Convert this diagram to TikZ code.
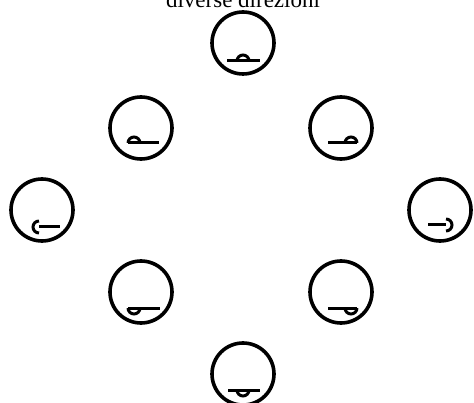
\documentclass[tikz,border=0pt]{standalone}
\usepackage{fontspec}
\setmainfont{Liberation Serif}
\usepackage{tikz}
\usetikzlibrary{calc}

\tikzset{
  ring/.style={draw, circle, line width=3.6pt, minimum size=62pt, inner sep=0pt},
  cue/.style={line width=3pt},
}

\begin{document}
\begin{tikzpicture}[x=1pt, y=1pt]
  \useasboundingbox (0,0) rectangle (474,402);
  \node[anchor=base, font=\fontsize{23}{26}\selectfont] (title) at (243,394) {diverse direzioni};

  \foreach \nm/\px/\py in {n/243/43, nw/141/128, ne/341/128, w/42/210, e/440/210, sw/141/292, se/341/292, s/243/374}
    \node[ring] (\nm) at (\px,402-\py) {};

  % caps pointing up
  \draw[cue] ($(n)+(-16,-18)$) -- ($(n)+(17,-18)$);
  \draw[cue] ($(n)+(-6,-18)$) arc[start angle=180, end angle=0, radius=6];
  \draw[cue] ($(nw)+(-13,-15)$) -- ($(nw)+(18,-15)$);
  \draw[cue] ($(nw)+(-13,-15)$) arc[start angle=180, end angle=0, radius=6];
  \draw[cue] ($(ne)+(-13,-15)$) -- ($(ne)+(16,-15)$);
  \draw[cue] ($(ne)+(4,-15)$) arc[start angle=180, end angle=0, radius=6];
  % caps pointing sideways
  \draw[cue] ($(w)+(-3,-17)$) -- ($(w)+(18,-17)$);
  \draw[cue] ($(w)+(-3,-11)$) arc[start angle=90, end angle=270, radius=6];
  \draw[cue] ($(e)+(-12,-15)$) -- ($(e)+(6,-15)$);
  \draw[cue] ($(e)+(6,-9)$) arc[start angle=90, end angle=-90, radius=6];
  % caps pointing down
  \draw[cue] ($(sw)+(-13,-16)$) -- ($(sw)+(19,-16)$);
  \draw[cue] ($(sw)+(-13,-16)$) arc[start angle=180, end angle=360, radius=6];
  \draw[cue] ($(se)+(-13,-16)$) -- ($(se)+(16,-16)$);
  \draw[cue] ($(se)+(4,-16)$) arc[start angle=180, end angle=360, radius=6];
  \draw[cue] ($(s)+(-15,-16)$) -- ($(s)+(17,-16)$);
  \draw[cue] ($(s)+(-6,-16)$) arc[start angle=180, end angle=360, radius=6];
\end{tikzpicture}
\end{document}
